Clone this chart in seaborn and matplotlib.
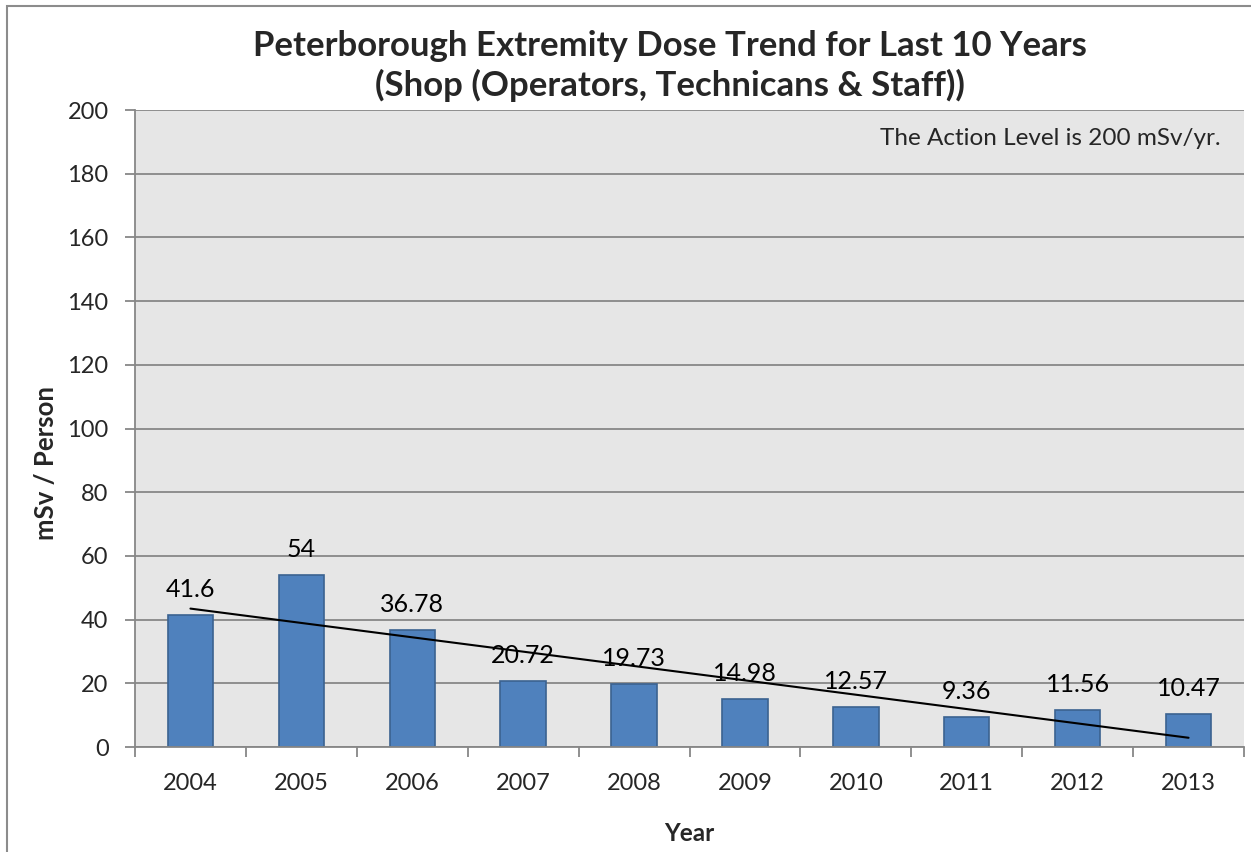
import numpy as np
import pandas as pd
import matplotlib
matplotlib.use("Agg")
import matplotlib.pyplot as plt
import seaborn as sns
from matplotlib.patches import Rectangle

years = ["2004", "2005", "2006", "2007", "2008", "2009", "2010", "2011", "2012", "2013"]
dose = [41.6, 54, 36.78, 20.72, 19.73, 14.98, 12.57, 9.36, 11.56, 10.47]
dose_labels = ["41.6", "54", "36.78", "20.72", "19.73", "14.98", "12.57", "9.36", "11.56", "10.47"]
y_ticks = [0, 20, 40, 60, 80, 100, 120, 140, 160, 180, 200]

sns.set_style("white")
plt.rcParams['font.family'] = ['Lato', 'DejaVu Sans']

df = pd.DataFrame({"Year": years, "Dose": dose})

fig = plt.figure(figsize=(12.51, 8.52), dpi=100)
ax = fig.add_axes([135/1251, 1-747/852, (1244-135)/1251, (747-110)/852])
ax.set_facecolor("#E6E6E6")

grid_c = "#878787"
for t in y_ticks:
    ax.axhline(t, color=grid_c, lw=1.3, zorder=0)

sns.barplot(data=df, x="Year", y="Dose", color="#4F81BD", width=0.41,
            edgecolor="#3B6290", linewidth=1.2, saturation=1, ax=ax, zorder=2)

# linear trendline
xs = np.arange(len(dose))
coef = np.polyfit(xs, dose, 1)
ax.plot([xs[0], xs[-1]], np.polyval(coef, [xs[0], xs[-1]]), color="black", lw=1.5, zorder=3)

for i, (v, lab) in enumerate(zip(dose, dose_labels)):
    ax.annotate(lab, (i, v), xytext=(0, 14), textcoords="offset pixels",
                ha="center", va="bottom", fontsize=18, color="black", zorder=4)

ax.set_xlim(-0.5, len(years) - 0.5)
ax.set_ylim(0, 200)
ax.set_yticks(y_ticks)
ax.set_xticks(np.arange(-0.5, len(years)), minor=False, labels=[""] * (len(years) + 1))
ax.set_xticks(np.arange(len(years)), minor=True, labels=years)
ax.tick_params(axis="x", which="major", length=7, width=1.3, color=grid_c, direction="out")
ax.tick_params(axis="x", which="minor", length=0, labelsize=17, pad=19)
ax.tick_params(axis="y", length=7, width=1.3, color=grid_c, labelsize=17, pad=12)
ax.tick_params(axis="both", bottom=True, left=True)

for s in ["top", "right"]:
    ax.spines[s].set_visible(False)
for s in ["left", "bottom"]:
    ax.spines[s].set_color(grid_c)
    ax.spines[s].set_linewidth(1.3)

ax.set_xlabel("Year", fontsize=17.5, fontweight="bold", labelpad=20)
ax.set_ylabel("")
fig.text(46/1251, 1-463/852, "mSv / Person", rotation=90, ha="center", va="center",
         fontsize=18.5, fontweight="bold")

ax.text((1221-135)/1109, 0.955, "The Action Level is 200 mSv/yr.", transform=ax.transAxes,
        ha="right", va="center", fontsize=17.5)

fig.text(670/1251, 1-66/852, "Peterborough Extremity Dose Trend for Last 10 Years\n(Shop (Operators, Technicans & Staff))",
         ha="center", va="center", fontsize=25, fontweight="bold", linespacing=1.22)

fig.patches.append(Rectangle((7/1251, -0.1), 1.2, 1.1 - 6/852, transform=fig.transFigure,
                             fill=False, edgecolor="#8C8C8C", lw=1.5))

fig.savefig("out.png", dpi=100)
